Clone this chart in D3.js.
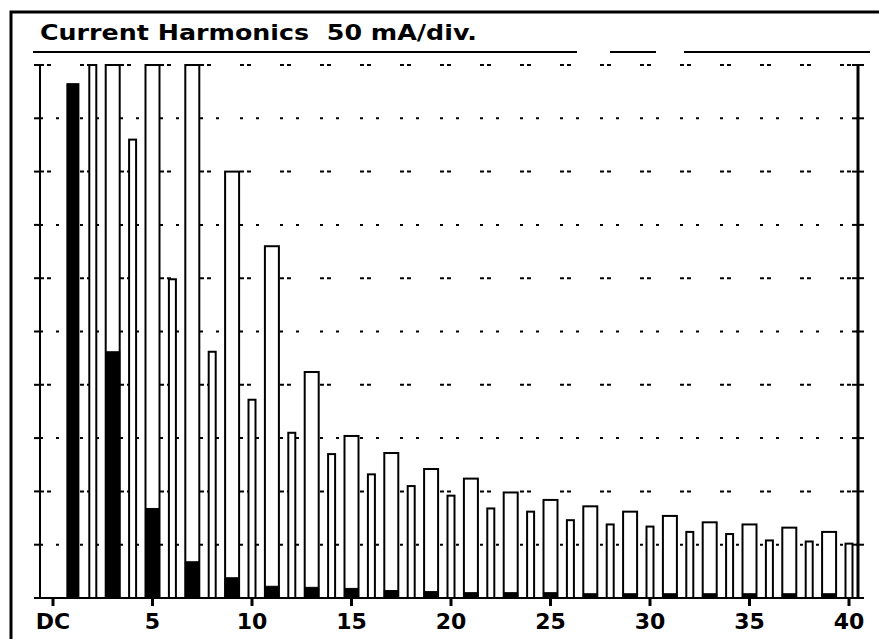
<html>
<head>
<script src="https://cdnjs.cloudflare.com/ajax/libs/d3/7.8.5/d3.min.js"></script>
<style>
  body { margin: 0; background: #fff; }
  text { font-family: "DejaVu Sans", sans-serif; font-weight: bold; fill: #000; }
</style>
</head>
<body>
<div id="chartContainer"></div>
<script type="text/javascript">
// harmonic orders 1..40
var harmonics = [1,2,3,4,5,6,7,8,9,10,11,12,13,14,15,16,17,18,19,20,
                 21,22,23,24,25,26,27,28,29,30,31,32,33,34,35,36,37,38,39,40];
// outlined bars (mA), values above 500 run off the top of the screen
var outlineValues = [482,540,560,430,540,299,540,231,400,186,330,155,212,135,152,116,136,105,121,96,
                     112,84,99,81,92,73,86,69,81,67,77,62,71,60,69,54,66,53,62,51];
// filled (black) part of the bars, mA
var filledValues = [482,0,231,0,84,0,34,0,19,0,11,0,10,0,9,0,7,0,6,0,
                    5,0,5,0,5,0,4,0,4,0,4,0,4,0,4,0,4,0,4,0];
var xTickValues = [0,5,10,15,20,25,30,35,40];
var xTickLabels = ["DC","5","10","15","20","25","30","35","40"];
var gridValues = [0,50,100,150,200,250,300,350,400,450,500];

var svg = d3.select("#chartContainer").append("svg")
  .attr("width", 879).attr("height", 639);

var x = d3.scaleLinear().domain([0, 40]).range([53, 849]);
var y = d3.scaleLinear().domain([0, 500]).range([598, 65]).clamp(true);

// screen frame (left and top edge)
svg.append("path")
  .attr("d", "M11,639 V12 H879")
  .attr("fill", "none").attr("stroke", "#000").attr("stroke-width", 3);

// title and its underline
svg.append("text")
  .attr("x", 40).attr("y", 40)
  .attr("textLength", 437).attr("lengthAdjust", "spacingAndGlyphs")
  .style("font-size", "22px")
  .style("white-space", "pre")
  .text("Current Harmonics  50 mA/div.");

[[33, 577], [610, 656], [684, 870]].forEach(function (s) {
  svg.append("line")
    .attr("x1", s[0]).attr("x2", s[1]).attr("y1", 52).attr("y2", 52)
    .attr("stroke", "#000").attr("stroke-width", 2);
});

// dotted division lines
svg.selectAll(".grid")
  .data(gridValues.slice(1))
  .enter().append("line")
    .attr("class", "grid")
    .attr("x1", 40).attr("x2", 858)
    .attr("y1", function (d) { return y(d); })
    .attr("y2", function (d) { return y(d); })
    .attr("stroke", "#000").attr("stroke-width", 2)
    .attr("stroke-dasharray", function (d, i) {
      return (gridValues.length - 2 - i) % 2 === 0 ? "4,3,4,29" : "3,13,3,21";
    });

// bar widths: fundamental is narrow, odd orders wide, even orders thin
function barWidth(h) { return h === 1 ? 11 : (h % 2 === 1 ? 14 : 7); }

svg.selectAll(".outline")
  .data(harmonics)
  .enter().append("rect")
    .attr("class", "outline")
    .attr("x", function (h) { return x(h) - barWidth(h) / 2; })
    .attr("width", function (h) { return barWidth(h); })
    .attr("y", function (h, i) { return y(outlineValues[i]); })
    .attr("height", function (h, i) { return 598 - y(outlineValues[i]); })
    .attr("fill", "#fff").attr("stroke", "#000").attr("stroke-width", 2);

// filled bars
svg.selectAll(".filled")
  .data(harmonics.filter(function (h, i) { return filledValues[i] > 0; }))
  .enter().append("rect")
    .attr("class", "filled")
    .attr("x", function (h) { return x(h) - barWidth(h) / 2; })
    .attr("width", function (h) { return barWidth(h); })
    .attr("y", function (h) { return y(filledValues[h - 1]); })
    .attr("height", function (h) { return 598 - y(filledValues[h - 1]); })
    .attr("fill", "#000").attr("stroke", "#000").attr("stroke-width", 1);

// left axis
svg.append("line")
  .attr("x1", 40).attr("x2", 40).attr("y1", 64).attr("y2", 599)
  .attr("stroke", "#000").attr("stroke-width", 2);
svg.selectAll(".ltick")
  .data(gridValues)
  .enter().append("line")
    .attr("x1", 34).attr("x2", 40)
    .attr("y1", function (d) { return y(d); })
    .attr("y2", function (d) { return y(d); })
    .attr("stroke", "#000").attr("stroke-width", 2);

// right axis
svg.append("line")
  .attr("x1", 858).attr("x2", 858).attr("y1", 64).attr("y2", 599)
  .attr("stroke", "#000").attr("stroke-width", 3);
svg.selectAll(".rtick")
  .data(gridValues)
  .enter().append("line")
    .attr("x1", 852).attr("x2", 864)
    .attr("y1", function (d) { return y(d); })
    .attr("y2", function (d) { return y(d); })
    .attr("stroke", "#000").attr("stroke-width", 2);

// baseline and x ticks
svg.append("line")
  .attr("x1", 34).attr("x2", 862).attr("y1", 598).attr("y2", 598)
  .attr("stroke", "#000").attr("stroke-width", 2);

svg.selectAll(".xtick")
  .data(xTickValues)
  .enter().append("line")
    .attr("x1", function (d) { return x(d); })
    .attr("x2", function (d) { return x(d); })
    .attr("y1", 598).attr("y2", 606)
    .attr("stroke", "#000").attr("stroke-width", 3);

svg.selectAll(".xlabel")
  .data(xTickValues)
  .enter().append("text")
    .attr("x", function (d) { return x(d); })
    .attr("y", 629)
    .attr("text-anchor", "middle")
    .style("font-size", "22px")
    .text(function (d, i) { return xTickLabels[i]; });
</script>
</body>
</html>
